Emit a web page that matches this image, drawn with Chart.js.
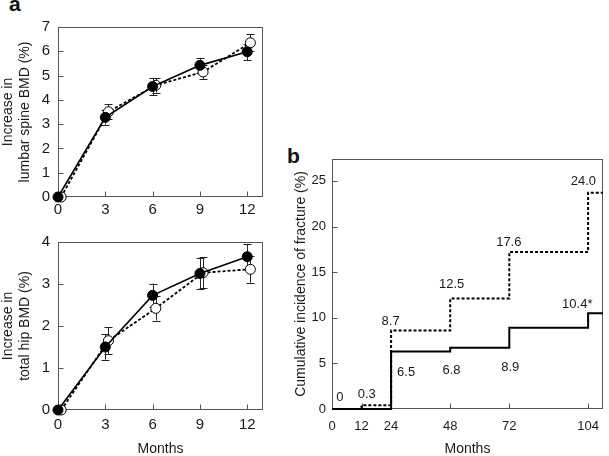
<!DOCTYPE html>
<html><head><meta charset="utf-8">
<script src="https://cdn.jsdelivr.net/npm/chart.js@4.4.1/dist/chart.umd.min.js"></script>
<style>
html,body{margin:0;padding:0;background:#fff;overflow:hidden;width:609px;height:456px;}
canvas{position:absolute;}
.pl{position:absolute;font:bold 21px 'Liberation Sans',Arial,sans-serif;color:#111;line-height:22px;}
</style></head><body>
<div class="pl" style="left:9px;top:-7px">a</div>
<div class="pl" style="left:287px;top:145px">b</div>
<canvas id="c1" width="280" height="222" style="left:0;top:0"></canvas>
<canvas id="c2" width="280" height="231" style="left:0;top:225px"></canvas>
<canvas id="c3" width="339" height="316" style="left:270px;top:140px"></canvas>
<script>
// ---- Panel a data ----
const months = [0, 3, 6, 9, 12];
const monthTicks = [0, 3, 6, 9, 12];
const spineFilled   = [0, 3.28, 4.55, 5.42, 5.98];
const spineFilledSE = [0, 0.30, 0.36, 0.31, 0.34];
const spineOpen     = [0, 3.51, 4.60, 5.15, 6.35];
const spineOpenSE   = [0, 0.30, 0.30, 0.29, 0.35];
const spineTicks = [0, 1, 2, 3, 4, 5, 6, 7];
const hipFilled   = [0, 1.50, 2.73, 3.25, 3.65];
const hipFilledSE = [0, 0.30, 0.28, 0.37, 0.30];
const hipOpen     = [0, 1.65, 2.42, 3.27, 3.35];
const hipOpenSE   = [0, 0.32, 0.29, 0.37, 0.32];
const hipTicks = [0, 1, 2, 3, 4];

// ---- Panel b data ----
const fxMonths = [0, 12, 24, 48, 72, 104, 110];
const fxSolid  = [0, 0, 6.3, 6.7, 8.9, 10.5, 10.5];
const fxDashed = [0, 0.4, 8.6, 12.1, 17.2, 23.7, 23.7];
const fxXTicks = [0, 12, 24, 48, 72, 104];
const fxYTicks = [0, 5, 10, 15, 20, 25];
const fxLabelText = ['0', '0.3', '8.7', '12.5', '17.6', '24.0', '10.4*', '6.5', '6.8', '8.9'];
const fxLabelX    = [3.2, 14.1, 23.8, 48.6, 71.8, 102.1, 99.6, 30.1, 48.5, 72.4];
const fxLabelY    = [1.3, 1.55, 9.65, 13.6, 18.25, 24.9, 11.5, 4.0, 4.2, 4.55];

const FAM = "'Liberation Sans', Arial, Helvetica, sans-serif";
const TXT = '#1a1a1a';
const AXIS = '#555';
const OPEN_SHIFT = 0.2;

const frame = {
  id: 'frame',
  beforeDatasetsDraw(chart) {
    const {ctx, chartArea: a, scales: {x, y}} = chart;
    ctx.save();
    ctx.strokeStyle = AXIS; ctx.lineWidth = 1;
    const L = Math.round(a.left) + 0.5, T = Math.round(a.top) + 0.5;
    const R = Math.round(a.right) - 0.5, B = Math.round(a.bottom) - 0.5;
    ctx.strokeRect(L, T, R - L, B - T);
    ctx.beginPath();
    x.ticks.forEach(t => {
      const px = Math.round(x.getPixelForValue(t.value)) + 0.5;
      ctx.moveTo(px, B); ctx.lineTo(px, B - 5);
    });
    y.ticks.forEach(t => {
      const py = Math.round(y.getPixelForValue(t.value)) + 0.5;
      ctx.moveTo(L, py); ctx.lineTo(L + 5, py);
    });
    ctx.stroke();
    ctx.restore();
  }
};

const errorBars = {
  id: 'errorBars',
  beforeDatasetsDraw(chart) {
    const {ctx, scales: {y}} = chart;
    ctx.save();
    ctx.strokeStyle = '#222'; ctx.lineWidth = 1;
    chart.data.datasets.forEach((ds, di) => {
      const meta = chart.getDatasetMeta(di);
      meta.data.forEach((el, i) => {
        const raw = ds.data[i];
        if (!raw.se) return;
        const x = Math.round(el.x) + 0.5;
        const y1 = y.getPixelForValue(raw.y + raw.se);
        const y2 = y.getPixelForValue(raw.y - raw.se);
        ctx.beginPath();
        ctx.moveTo(x, y1); ctx.lineTo(x, y2);
        ctx.moveTo(x - 4, Math.round(y1) + 0.5); ctx.lineTo(x + 4, Math.round(y1) + 0.5);
        ctx.moveTo(x - 4, Math.round(y2) + 0.5); ctx.lineTo(x + 4, Math.round(y2) + 0.5);
        ctx.stroke();
      });
    });
    ctx.restore();
  }
};

function bmdChart(id, titleLines, yTicks, filled, filledSE, open, openSE, o) {
  const filledPts = months.map((m, i) => ({x: m, y: filled[i], se: filledSE[i]}));
  const openPts = months.map((m, i) => ({x: m + OPEN_SHIFT, y: open[i], se: openSE[i]}));
  return new Chart(document.getElementById(id), {
    type: 'line',
    data: {datasets: [
      {data: filledPts, borderColor: '#000', borderWidth: 1.6, pointRadius: 5,
       pointBackgroundColor: '#000', pointBorderColor: '#000', pointBorderWidth: 1, clip: false},
      {data: openPts, borderColor: '#000', borderWidth: 1.8, borderDash: [3, 2], pointRadius: 5,
       pointBackgroundColor: '#fff', pointBorderColor: '#000', pointBorderWidth: 1, clip: false}
    ]},
    options: {
      responsive: false, animation: false, events: [],
      layout: {padding: {top: o.padTop, right: o.padRight, left: 0, bottom: 0}},
      plugins: {legend: {display: false}, tooltip: {enabled: false}},
      scales: {
        x: {type: 'linear', min: 0, max: 13,
            grid: {display: false, drawTicks: false}, border: {display: false},
            afterBuildTicks: s => { s.ticks = monthTicks.map(v => ({value: v})); },
            afterFit: s => { s.height = o.xH; },
            ticks: {padding: o.xPad, color: TXT, font: {family: FAM, size: 15}},
            title: o.xTitle ? {display: true, text: 'Months', color: TXT,
                    font: {family: FAM, size: 14, lineHeight: 1}, padding: 0} : {display: false}
        },
        y: {type: 'linear', min: 0, max: yTicks[yTicks.length - 1],
            grid: {display: false, drawTicks: false}, border: {display: false},
            afterBuildTicks: s => { s.ticks = yTicks.map(v => ({value: v})); },
            afterFit: s => { s.width = 58; },
            ticks: {padding: 8, color: TXT, font: {family: FAM, size: 15}},
            title: {display: true, text: titleLines, color: TXT,
                    font: {family: FAM, size: 14, lineHeight: 1.2}, padding: {top: 0, bottom: 0}}
        }
      }
    },
    plugins: [frame, errorBars]
  });
}

bmdChart('c1', ['Increase in', 'lumbar spine BMD (%)'], spineTicks,
  spineFilled, spineFilledSE, spineOpen, spineOpenSE,
  {padTop: 27, padRight: 17, xH: 25, xPad: 4, xTitle: false});

bmdChart('c2', ['Increase in', 'total hip BMD (%)'], hipTicks,
  hipFilled, hipFilledSE, hipOpen, hipOpenSE,
  {padTop: 16, padRight: 17, xH: 46, xPad: 6, xTitle: true});

const fxLabels = {
  id: 'fxLabels',
  afterDatasetsDraw(chart) {
    const {ctx, scales: {x, y}} = chart;
    ctx.save();
    ctx.fillStyle = TXT;
    ctx.font = '13px ' + FAM;
    ctx.textAlign = 'center'; ctx.textBaseline = 'middle';
    fxLabelText.forEach((t, i) => {
      ctx.fillText(t, x.getPixelForValue(fxLabelX[i]), y.getPixelForValue(fxLabelY[i]));
    });
    ctx.restore();
  }
};

new Chart(document.getElementById('c3'), {
  type: 'line',
  data: {datasets: [
    {data: fxMonths.map((m, i) => ({x: m, y: fxSolid[i]})), stepped: true,
     borderColor: '#000', borderWidth: 2, pointRadius: 0, clip: false},
    {data: fxMonths.map((m, i) => ({x: m, y: fxDashed[i]})), stepped: true,
     borderColor: '#000', borderWidth: 2, borderDash: [3, 2], pointRadius: 0, clip: false}
  ]},
  options: {
    responsive: false, animation: false, events: [],
    layout: {padding: {top: 19, right: 1, left: 0, bottom: 0}},
    plugins: {legend: {display: false}, tooltip: {enabled: false}},
    scales: {
      x: {type: 'linear', min: 0, max: 110,
          grid: {display: false, drawTicks: false}, border: {display: false},
          afterBuildTicks: s => { s.ticks = fxXTicks.map(v => ({value: v})); },
          afterFit: s => { s.height = 47; },
          ticks: {padding: 10, color: TXT, font: {family: FAM, size: 13}},
          title: {display: true, text: 'Months', color: TXT,
                  font: {family: FAM, size: 14, lineHeight: 1}, padding: 0}
      },
      y: {type: 'linear', min: 0, max: 27.4,
          grid: {display: false, drawTicks: false}, border: {display: false},
          afterBuildTicks: s => { s.ticks = fxYTicks.map(v => ({value: v})); },
          afterFit: s => { s.width = 62; },
          ticks: {padding: 6, color: TXT, font: {family: FAM, size: 13}},
          title: {display: true, text: 'Cumulative incidence of fracture (%)', color: TXT,
                  font: {family: FAM, size: 14, lineHeight: 1.2}, padding: {top: 22.6, bottom: 0}}
      }
    }
  },
  plugins: [frame, fxLabels]
});
</script>
</body></html>
